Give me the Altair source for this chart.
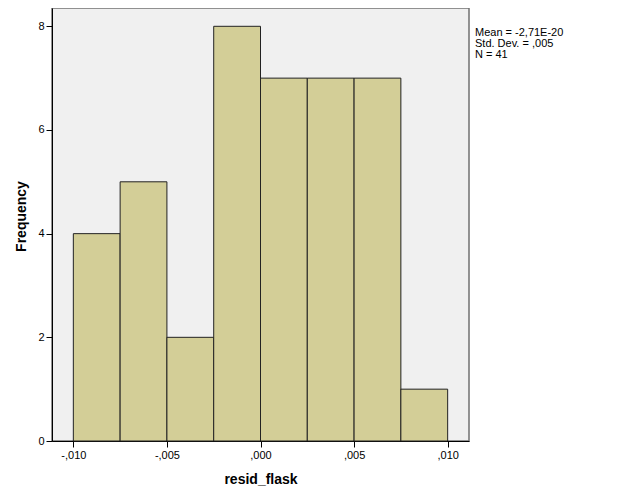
import altair as alt
import pandas as pd

bin_start = [-0.0100, -0.0075, -0.0050, -0.0025, 0.0000, 0.0025, 0.0050, 0.0075]
bin_end = [-0.0075, -0.0050, -0.0025, 0.0000, 0.0025, 0.0050, 0.0075, 0.0100]
counts = [4, 5, 2, 8, 7, 7, 7, 1]
x_ticks = [-0.010, -0.005, 0.0, 0.005, 0.010]
y_ticks = [0, 2, 4, 6, 8]
stats_lines = ["Mean = -2,71E-20", "Std. Dev. = ,005", "N = 41"]

df = pd.DataFrame({"start": bin_start, "end": bin_end, "count": counts, "base": [0] * len(counts)})

FONT = "Liberation Sans"

xscale = alt.Scale(domain=[-0.01114, 0.01114], nice=False, zero=False)
yscale = alt.Scale(domain=[0, 8.353], nice=False)

bars = alt.Chart(df).mark_rect(fill="#D3CE97", stroke="#222222", strokeWidth=1).encode(
    x=alt.X(
        "start:Q",
        scale=xscale,
        axis=alt.Axis(
            values=x_ticks,
            labelExpr="replace(replace(format(datum.value, '.3f'), '\u2212', '-'), '0.', ',')",
            title="resid_flask",
            titlePadding=12,
            grid=False,
        ),
    ),
    x2="end:Q",
    y=alt.Y(
        "count:Q",
        scale=yscale,
        axis=alt.Axis(values=y_ticks, title="Frequency", titlePadding=9, titleY=208, grid=False, format="d"),
    ),
    y2="base:Q",
)

stats = alt.Chart(pd.DataFrame({"t": [0]})).mark_text(
    align="left", baseline="top", fontSize=11, lineHeight=11, font=FONT, color="black"
).encode(
    x=alt.value(423),
    y=alt.value(19),
    text=alt.value(stats_lines),
)

chart = (
    alt.layer(bars, stats)
    .properties(
        width=417,
        height=433,
        autosize=alt.AutoSizeParams(type="none"),
        padding={"left": 44, "top": 0, "right": 149, "bottom": 52},
    )
    .configure_view(fill="#F0F0F0", stroke="#707070", strokeWidth=1.5)
    .configure_axis(
        domainColor="black",
        domainWidth=1,
        tickColor="black",
        tickSize=6,
        labelFont=FONT,
        labelFontSize=11,
        labelColor="black",
        labelPadding=2,
        titleFont=FONT,
        titleFontSize=14,
        titleFontWeight="bold",
        titleColor="black",
    )
)

chart.save("out.html", embed_options={"renderer": "svg", "actions": False})
